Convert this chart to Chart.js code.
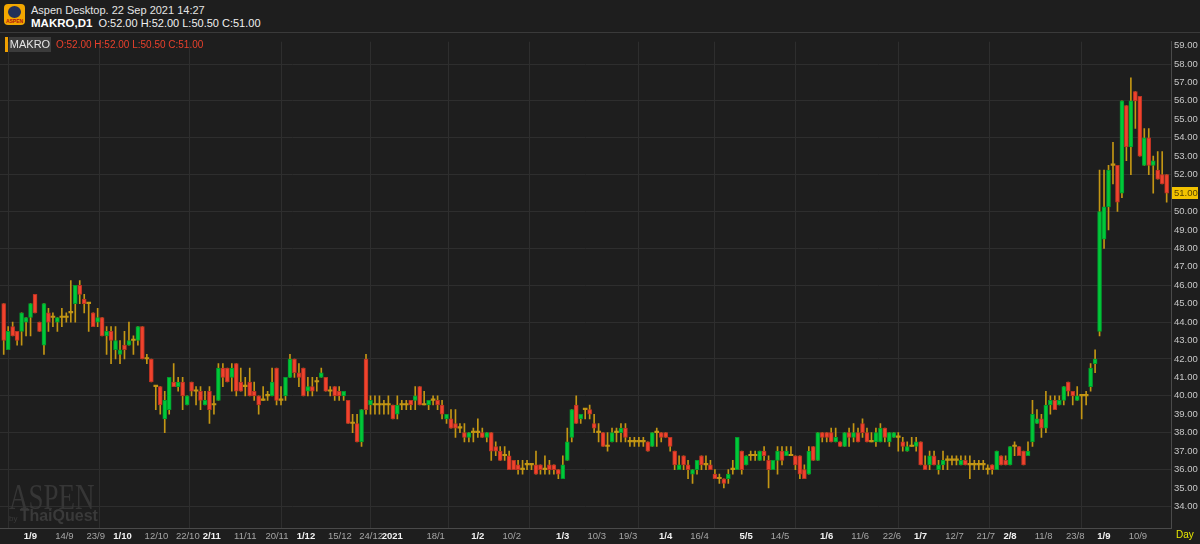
<!DOCTYPE html>
<html>
<head>
<meta charset="utf-8">
<script src="https://cdn.jsdelivr.net/npm/chart.js@4.4.1/dist/chart.umd.min.js"></script>
<style>
  body { margin: 0; width: 1200px; height: 544px; overflow: hidden; background: #1e1e1e; font-family: "Liberation Sans", Arial, sans-serif; }
  #header { position: absolute; left: 0; top: 0; width: 1200px; height: 32px; border-bottom: 1px solid #3a3a3a; }
  .logo { position: absolute; left: 4px; top: 4px; width: 21px; height: 21px; background: #f2a700; border-radius: 4px; }
  .logo .em { position: absolute; left: 4px; top: 2px; width: 13px; height: 12px; border-radius: 50%; background: #23305a; }
  .logo .tx { position: absolute; left: 0; top: 14px; width: 21px; text-align: center; font-size: 5px; color: #b01010; font-weight: bold; }
  .h1 { position: absolute; left: 31px; top: 4px; font-size: 11px; color: #e4e4e4; }
  .h2 { position: absolute; left: 31px; top: 17px; font-size: 11px; color: #f0f0f0; }
  .h2 b { font-size: 11.5px; color: #ffffff; }
  #wrap { position: absolute; left: 0; top: 33px; width: 1200px; height: 511px; }
  .lg-bar { position: absolute; left: 5px; top: 4px; width: 3px; height: 15px; background: #f0a000; }
  .lg-name { position: absolute; left: 9px; top: 4px; width: 42px; height: 15px; background: #3b3b3b; color: #e6e6e6; font-size: 11px; line-height: 15px; text-align: center; }
  .lg-ohlc { position: absolute; left: 56px; top: 4px; font-size: 10px; line-height: 15px; color: #e8402c; }
  .wm1 { position: absolute; left: 9px; top: 443px; font-family: "Liberation Serif", serif; font-size: 36px; color: #363636; transform: scaleX(0.75); transform-origin: left top; }
  .wm2 { position: absolute; left: 9px; top: 474px; color: #3a3a3a; font-size: 8px; }
  .wm2 b { font-size: 16px; }
  .day { position: absolute; left: 1176px; top: 496px; font-size: 10px; color: #e8e800; }
</style>
</head>
<body>
<div id="header">
  <div class="logo"><div class="em"></div><div class="tx">ASPEN</div></div>
  <div class="h1">Aspen Desktop. 22 Sep 2021 14:27</div>
  <div class="h2"><b>MAKRO,D1</b>&nbsp; O:52.00 H:52.00 L:50.50 C:51.00</div>
</div>
<div id="wrap">
  <canvas id="chart" width="1200" height="511"></canvas>
  <div class="lg-bar"></div>
  <div class="lg-name">MAKRO</div>
  <div class="lg-ohlc">O:52.00 H:52.00 L:50.50 C:51.00</div>
  <div class="wm1">ASPEN</div>
  <div class="wm2">by <b>ThaiQuest</b></div>
  <div class="day">Day</div>
</div>
<script>
// Cours journaliers MAKRO (ouverture, plus haut, plus bas, cloture)
const openP = [
  45, 42.5, 43.75, 43.5, 43.5, 44, 44.25, 45.5, 44, 42.75,
  44.5, 44.25, 44, 44.25, 44.25, 44.5, 45, 46, 45.25, 45,
  44.5, 44, 44.25, 43.25, 43.5, 42.5, 42.25, 42.75, 42.75, 43,
  43, 43.75, 42, 42, 40.5, 40.5, 38.75, 39.25, 40.75, 40.5,
  40.75, 39.5, 40.75, 40.25, 40.25, 39.5, 40.25, 39.5, 39.75, 41.5,
  41.5, 41, 41.75, 40.75, 40.5, 40.75, 40.25, 40, 39.75, 40,
  40, 41.5, 39.75, 40, 41, 42, 41.25, 41.5, 40.25, 40.5,
  40.75, 41, 41, 40.25, 40.5, 40.25, 40, 39.75, 38.5, 38.5,
  37.5, 42, 39.5, 39.5, 39.5, 39.5, 39.5, 39.5, 39, 39.5,
  39.5, 39.75, 39.75, 40.5, 39.5, 39.5, 39.75, 39.75, 39.5, 38.75,
  38.75, 38.5, 38.25, 38, 37.75, 38, 38, 38, 37.75, 38,
  37.25, 37, 36.75, 36.75, 36.5, 36.25, 36, 36.25, 36.25, 36.25,
  36.25, 36, 36.25, 36.25, 36, 35.5, 36.5, 37.75, 39.5, 38.75,
  39.25, 39.25, 38.5, 38, 38, 37.25, 37.5, 38, 38, 38.25,
  37.5, 37.5, 37.5, 37.5, 37.5, 37.25, 38, 38, 38, 37.75,
  37, 36, 36.75, 36.25, 35.75, 36, 36.75, 36.25, 36.25, 35.75,
  35.5, 35.5, 35.5, 36, 36, 37, 36.25, 36.75, 36.75, 36.5,
  37, 36.5, 36, 36.5, 37, 36.75, 36.75, 36.75, 36.75, 36,
  35.75, 37.25, 36.5, 38, 38, 38, 37.5, 37.5, 37.25, 38,
  37.75, 38, 38.5, 38, 37.5, 37.5, 37.5, 38.25, 37.5, 37.75,
  37.75, 37.5, 37, 37.25, 37.25, 37.5, 36.25, 36.25, 36.75, 36,
  36.25, 36.5, 36.5, 36.5, 36.25, 36.5, 36.25, 36.25, 36.25, 36.25,
  36, 36.25, 36, 36.75, 36.5, 36.25, 37.25, 37.25, 37, 36.75,
  37.5, 38.5, 38.75, 38.25, 39.5, 39.75, 39.5, 39.75, 40.75, 40.25,
  39.75, 40, 40, 40.5, 41.75, 43.5, 48.5, 50.25, 52.5, 52.5,
  51, 55.75, 53.5, 56.5, 56.25, 52.5, 54, 52.5, 52.25, 52,
  52
];
const highP = [
  45, 43.75, 44, 43.5, 44.5, 44.25, 45, 45.5, 44, 45,
  44.75, 44.5, 44.25, 44.75, 44.5, 46.25, 46, 46.25, 45.5, 45,
  44.5, 44.75, 44.25, 43.75, 43.75, 43.75, 43, 43.5, 44, 43.25,
  43.75, 43.75, 42.25, 42, 40.5, 40.5, 40.25, 41, 41.75, 41,
  41, 40, 40.75, 40.5, 40.5, 40.25, 40.5, 40, 41.75, 41.75,
  41.5, 41.75, 41.75, 41.5, 41, 41.5, 40.75, 40, 40.5, 40.25,
  41.5, 41.5, 40.5, 41, 42.25, 42, 41.75, 41.5, 41, 41,
  41, 41.5, 41, 40.5, 40.5, 40.5, 40.25, 39.75, 39, 39,
  39.25, 42.25, 40, 40, 40, 39.75, 40, 39.5, 40, 39.75,
  39.75, 39.75, 40.5, 40.5, 40.25, 39.75, 40, 40, 39.75, 39,
  39.25, 39.25, 38.5, 38.5, 38, 38.25, 38.75, 38.25, 38, 38,
  37.5, 37.25, 37.25, 37, 36.5, 36.5, 36.5, 36.5, 36.25, 37,
  36.25, 36.75, 36.5, 36.25, 36, 36.75, 38.25, 39.25, 40, 39,
  39.25, 39.5, 39, 38.5, 38, 38, 38.25, 38.25, 38.5, 38.5,
  37.75, 37.75, 37.75, 37.75, 37.5, 38, 38.25, 38, 38, 37.75,
  37, 36.75, 36.75, 36.5, 36, 36.5, 36.75, 36.75, 36.5, 36,
  35.75, 35.5, 36, 36.5, 37.75, 37, 36.75, 37, 37, 37,
  37.25, 36.75, 36.5, 37.25, 37.25, 37.25, 37.25, 36.75, 36.75, 36.25,
  37.25, 37.25, 38, 38, 38, 38.25, 38.25, 37.5, 38, 38.25,
  38.5, 38.25, 38.75, 38.25, 38, 38.25, 38.5, 38.25, 38, 38,
  38, 37.75, 37.5, 37.75, 37.75, 37.5, 36.75, 37, 37, 36.5,
  37, 36.75, 36.75, 36.75, 36.75, 36.75, 36.75, 36.5, 36.5, 36.5,
  36.25, 36.25, 37, 36.75, 36.75, 37.25, 37.5, 37.25, 37, 37.5,
  39.75, 39.25, 39, 40.25, 40, 40, 40, 40.5, 40.75, 40.25,
  40.5, 40, 40.25, 41.75, 42.5, 52.25, 52.25, 52.5, 53.75, 52.5,
  56, 55.75, 57.25, 56.5, 56.25, 54.5, 54.5, 53, 53.25, 53.25,
  52
];
const lowP = [
  42.25, 42.5, 43.25, 42.75, 42.75, 43.25, 43.25, 44.5, 43.5, 42.25,
  43.5, 43.75, 43.5, 43.75, 44, 44, 44, 45, 44.5, 43.5,
  43.75, 43.75, 43.25, 42.25, 41.75, 42, 41.75, 42, 42.75, 42.25,
  42.75, 42, 41.75, 40.75, 39.25, 39, 38, 39, 40.5, 40.25,
  39.25, 39.5, 40, 39.5, 39.25, 39.5, 38.5, 39, 39.75, 40.5,
  40.75, 40.25, 40, 40.25, 40, 40, 39.75, 39, 39.75, 39.75,
  40, 39.5, 39.5, 39.75, 41, 41, 40.5, 40, 40, 40,
  40.25, 41, 40.25, 40, 39.75, 39.75, 39.75, 38.5, 38, 37.5,
  37.25, 39, 39, 39, 39, 39, 39, 38.75, 38.75, 39.25,
  39.25, 39.25, 39.25, 39.5, 39.5, 39.25, 39.5, 39.25, 38.75, 38.5,
  38.25, 37.75, 38, 37.5, 37.5, 37.5, 37.75, 37.75, 37.5, 36.5,
  36.75, 36.5, 36.5, 36, 36, 35.75, 35.75, 36, 36, 35.75,
  35.75, 35.75, 35.75, 35.75, 35.5, 35.5, 36.5, 37.5, 38.5, 38.5,
  38.75, 38.75, 38, 37.5, 37.25, 37, 37.5, 37.5, 37.5, 37.5,
  37.25, 37.25, 37.25, 37.25, 37, 37.25, 37.25, 37.5, 37.75, 37,
  36, 36, 36, 35.5, 35.25, 35.75, 36, 36, 36, 35.5,
  35.25, 35, 35.25, 35.75, 36, 35.75, 36.25, 36.5, 36.5, 36.5,
  36.5, 35, 36, 35.75, 36.25, 36.75, 36.75, 36, 35.5, 35.5,
  35.75, 36.5, 36.5, 37.5, 37.5, 37.5, 37.5, 37.25, 37.25, 37.25,
  37.5, 37.5, 37.75, 37.5, 37.5, 37.25, 37.5, 37.5, 37.25, 37.75,
  37, 37, 37, 37.25, 37, 36.25, 36, 36, 36.25, 35.75,
  36, 36, 36.25, 36.25, 36.25, 36.25, 35.5, 36, 36, 36,
  35.75, 35.75, 36, 36.25, 36.25, 36.25, 36.75, 36.75, 36.25, 36.75,
  37.25, 38.5, 37.75, 38, 39, 39.25, 39.5, 39.5, 40, 39.5,
  39.75, 38.75, 39.5, 40.25, 41.25, 43.25, 48, 49, 51.5, 50,
  50.75, 52.75, 52, 54.5, 53, 52.5, 52, 51, 51.75, 51.5,
  50.5
];
const closeP = [
  43, 43.5, 43.25, 43, 44.5, 44.25, 45, 44.5, 43.5, 45,
  44, 44.25, 44.25, 44.25, 44.25, 44.5, 46, 45.5, 45, 45,
  43.75, 44.25, 43.25, 43.5, 43, 43, 42.5, 42.5, 43, 43,
  43.75, 42, 42, 40.75, 40.5, 39.5, 39.75, 41, 40.5, 40.75,
  40, 40, 40.25, 40.25, 39.75, 39.75, 39.25, 39.5, 41.5, 41,
  40.75, 41.5, 40.25, 40.25, 40.5, 40, 40, 39.5, 39.75, 40,
  40.75, 39.75, 39.75, 41, 42, 41.25, 41, 40, 40.5, 40.25,
  40.75, 41.25, 40.25, 40.25, 40, 40, 40.25, 38.5, 38.5, 37.5,
  39.25, 39.25, 39.75, 39.5, 39.5, 39.5, 39.5, 38.75, 39.5, 39.5,
  39.5, 39.5, 40, 39.5, 39.5, 39.75, 39.75, 39.5, 39, 39,
  38.25, 38.25, 38.25, 37.75, 38, 38, 38, 37.75, 38, 37,
  37, 36.5, 36.75, 36, 36, 36, 36, 36.25, 36.25, 35.75,
  36, 36, 36, 36, 35.75, 36.25, 37.5, 39.25, 38.5, 39,
  39.25, 39, 38.25, 38, 37.25, 37.25, 38, 38, 38.25, 37.75,
  37.5, 37.5, 37.5, 37.5, 37, 38, 38, 37.75, 37.75, 37.25,
  36.25, 36.25, 36.25, 36, 36, 36.5, 36.25, 36.25, 36, 35.5,
  35.5, 35.25, 35.75, 36, 37.75, 36, 36.75, 36.75, 36.75, 37,
  36.75, 36, 36.5, 37, 36.5, 37, 36.75, 36.25, 35.75, 35.5,
  37, 36.5, 38, 37.75, 37.75, 37.5, 37.75, 37.25, 38, 37.75,
  38, 37.5, 38, 37.5, 37.5, 38, 38.25, 37.75, 38, 38,
  37.75, 37.25, 37.25, 37.25, 37.5, 36.25, 36, 36.75, 36.25, 36.25,
  36.5, 36.5, 36.5, 36.5, 36.5, 36.25, 36.25, 36.25, 36.25, 36.25,
  36, 36, 37, 36.25, 36.25, 37.25, 37.25, 36.75, 36.25, 37,
  39, 38.75, 38.25, 39.5, 39.75, 39.25, 39.75, 40.5, 40.25, 40,
  40, 40, 40, 41.5, 42, 50, 50.25, 52.25, 52.5, 50.5,
  56, 53.5, 56, 56, 53, 54, 52.5, 52.75, 51.75, 51.5,
  51
];

// Axe des dates : position (n° de seance) et texte
const xTickIdx = [5, 12, 19, 25, 32, 39, 45, 52, 59, 66, 73, 80, 85, 95, 105, 112, 124, 131, 138,
  147, 154, 165, 172, 183, 190, 197, 204, 211, 218, 224, 231, 238, 245, 252];
const xTickText = ["1/9", "14/9", "23/9", "1/10", "12/10", "22/10", "2/11", "11/11", "20/11", "1/12",
  "15/12", "24/12", "2021", "18/1", "1/2", "10/2", "1/3", "10/3", "19/3", "1/4", "16/4", "5/5", "14/5",
  "1/6", "11/6", "22/6", "1/7", "12/7", "21/7", "2/8", "11/8", "23/8", "1/9", "10/9"];
const xTickBold = [1, 0, 0, 1, 0, 0, 1, 0, 0, 1, 0, 0, 1, 0, 1, 0, 1, 0, 0, 1, 0, 1, 0,
  1, 0, 0, 1, 0, 0, 1, 0, 0, 1, 0];
// Axe des prix
const yTicks = [34, 35, 36, 37, 38, 39, 40, 41, 42, 43, 44, 45, 46, 47, 48, 49, 50, 51, 52, 53, 54, 55, 56, 57, 58, 59];

const VERT = "#00c83a", VERT_BORD = "#009a2c";
const ROUGE = "#f0432d", ROUGE_BORD = "#b83223";
const MECHE = "#c39614";
const FONT = "Liberation Sans";

const corps = openP.map((o, i) => ({ x: i, y: [o, closeP[i]] }));
const meches = lowP.map((l, i) => ({ x: i, y: [l, highP[i]] }));

function couleurCorps(ctx) {
  const i = ctx.dataIndex;
  if (openP[i] === closeP[i]) return MECHE;
  return closeP[i] > openP[i] ? VERT : ROUGE;
}
function bordCorps(ctx) {
  const i = ctx.dataIndex;
  if (openP[i] === closeP[i]) return MECHE;
  return closeP[i] > openP[i] ? VERT_BORD : ROUGE_BORD;
}

// Etiquette du dernier cours sur l'axe de droite
const etiquetteDernier = {
  id: "etiquetteDernier",
  afterDraw(chart) {
    const dernier = closeP[closeP.length - 1];
    const y = chart.scales.y.getPixelForValue(dernier);
    const x0 = chart.chartArea.right + 1;
    const ctx = chart.ctx;
    ctx.save();
    ctx.fillStyle = "#f2c200";
    ctx.fillRect(x0, Math.round(y) - 6, 26, 12);
    ctx.fillStyle = "#5a4500";
    ctx.font = "9.5px '" + FONT + "'";
    ctx.textBaseline = "middle";
    ctx.fillText(dernier.toFixed(2), x0 + 2, Math.round(y) + 0.5);
    ctx.restore();
  }
};

new Chart(document.querySelector("#chart"), {
  type: "bar",
  data: {
    datasets: [
      {
        label: "corps",
        data: corps,
        grouped: false,
        barThickness: 4,
        minBarLength: 1.5,
        backgroundColor: couleurCorps,
        borderColor: bordCorps,
        borderWidth: (ctx) => (openP[ctx.dataIndex] === closeP[ctx.dataIndex] ? 0 : 1),
        borderSkipped: false
      },
      {
        label: "meches",
        data: meches,
        grouped: false,
        barThickness: 1,
        backgroundColor: MECHE,
        borderWidth: 0
      }
    ]
  },
  options: {
    responsive: false,
    animation: false,
    devicePixelRatio: 1,
    layout: { padding: 0 },
    plugins: { legend: { display: false }, tooltip: { enabled: false } },
    scales: {
      x: {
        type: "linear",
        offset: false,
        min: -0.83,
        max: 260.97,
        afterBuildTicks: (scale) => { scale.ticks = xTickIdx.map(v => ({ value: v - 0.5 })); },
        afterFit: (scale) => { scale.height = 16; },
        grid: {
          color: (ctx) => (xTickBold[ctx.index] ? "#2e2e2e" : "rgba(0,0,0,0)"),
          drawTicks: false
        },
        border: { color: "#4a4a4a" },
        ticks: {
          autoSkip: false,
          maxRotation: 0,
          minRotation: 0,
          align: "start",
          padding: 3,
          callback: (v, i) => xTickText[i],
          color: (ctx) => (xTickBold[ctx.index] ? "#f2f2f2" : "#a6a6a6"),
          font: (ctx) => ({ family: FONT, size: 9.5, weight: xTickBold[ctx.index] ? "bold" : "normal" })
        }
      },
      y: {
        position: "right",
        min: 32.83,
        max: 59.21,
        afterBuildTicks: (scale) => { scale.ticks = yTicks.map(v => ({ value: v })); },
        afterFit: (scale) => { scale.width = 29; },
        grid: {
          color: (ctx) => (ctx.tick && ctx.tick.value % 2 === 0 ? "#2e2e2e" : "rgba(0,0,0,0)"),
          drawTicks: false
        },
        border: { color: "#4a4a4a" },
        ticks: {
          autoSkip: false,
          padding: 3,
          color: "#c8c8c8",
          font: { family: FONT, size: 9.5 },
          callback: (v) => v.toFixed(2)
        }
      }
    }
  },
  plugins: [etiquetteDernier]
});
</script>
</body>
</html>
